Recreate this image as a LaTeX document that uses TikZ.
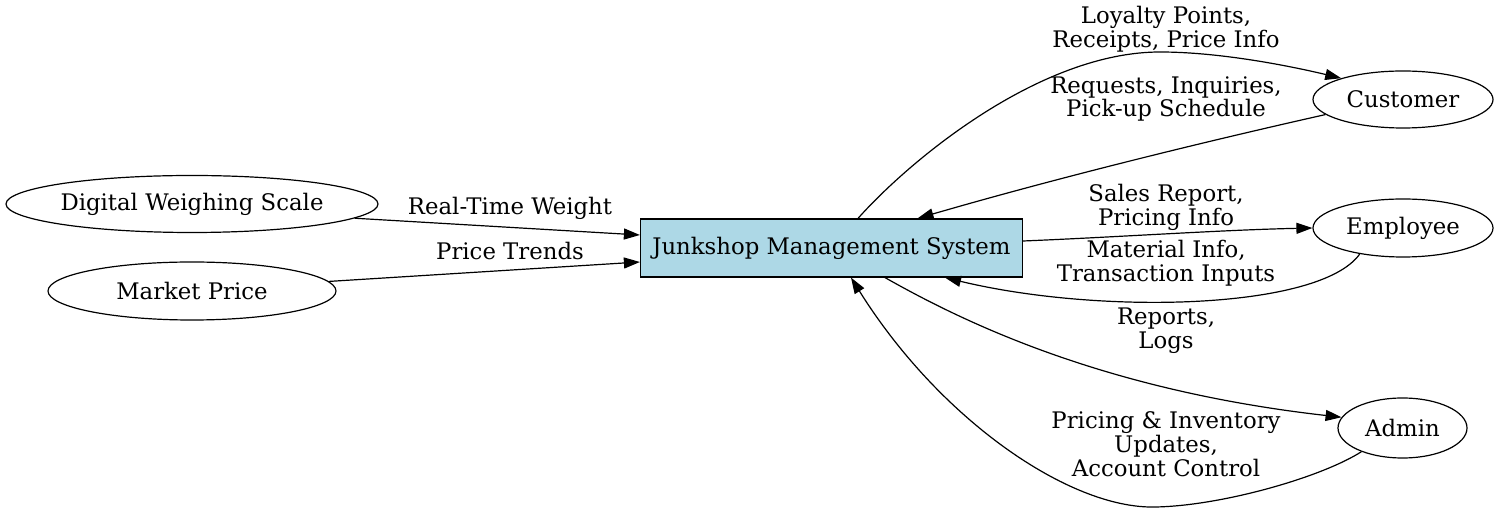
\documentclass[tikz,border=0pt]{standalone}
\usepackage{fontspec}
\setmainfont{DejaVu Serif}
\usetikzlibrary{arrows.meta,shapes.geometric,calc}
\definecolor{boxblue}{RGB}{173,216,230}
\begin{document}
\begin{tikzpicture}[x=0.5pt,y=-0.5pt,
  every node/.style={font=\fontsize{11.4}{11.9}\selectfont, inner sep=0pt},
  ell/.style={draw, ellipse, line width=0.6pt},
  sysbox/.style={draw, rectangle, fill=boxblue, line width=0.6pt, minimum width=191pt, minimum height=29pt},
  lbl/.style={align=center},
  flow/.style={line width=0.6pt, -{Triangle[length=8pt,width=5.5pt]}}]
\useasboundingbox (0,0) rectangle (1499,512);
% nodes
\node[ell, minimum width=186pt, minimum height=28.5pt] (dws) at (192,204) {Digital Weighing Scale};
\node[ell, minimum width=144pt, minimum height=29pt] (mp) at (192,291) {Market Price};
\node[sysbox] (jms) at (831.5,248) {Junkshop Management System};
\node[ell, minimum width=90pt, minimum height=28.5pt] (cust) at (1403,99.5) {Customer};
\node[ell, minimum width=90pt, minimum height=29pt] (emp) at (1403,228) {Employee};
\node[ell, minimum width=64.5pt, minimum height=30pt] (adm) at (1402.5,428) {Admin};
% edges
\draw[flow] (dws.-5) -- ($(jms.west)+(0,-13)$);
\draw[flow] (mp.4) -- ($(jms.west)+(0,14)$);
\draw[flow] ($(jms.north)+(26.5,0)$) .. controls (910,160) and (1040,52) .. (1160,52)
   .. controls (1220,52) and (1290,66) .. (cust.161);
\draw[flow] (cust.191) .. controls (1190,145) and (1050,180) .. ($(jms.north)+(86,0)$);
\draw[flow] ($(jms.east)+(0,-7)$) .. controls (1120,237) and (1220,230) .. (emp.180);
\draw[flow] (emp.211) .. controls (1320,310) and (1100,315) .. ($(jms.south)+(113.5,0)$);
\draw[flow] ($(jms.south)+(53.5,0)$) .. controls (960,320) and (1100,390) .. (adm.170);
\draw[flow] (adm.210) .. controls (1320,478) and (1220,506) .. (1155,507)
   .. controls (1070,509) and (940,420) .. ($(jms.south)+(19.5,0)$);
% labels
\node[lbl] (l1) at (510,208) {Real-Time Weight};
\node[lbl] (l2) at (510,251) {Price Trends};
\node[lbl] (l3) at (1166,29) {Loyalty Points,\\Receipts, Price Info};
\node[lbl] (l4) at (1166,99) {Requests, Inquiries,\\Pick-up Schedule};
\node[lbl] (l5) at (1166,207) {Sales Report,\\Pricing Info};
\node[lbl] (l6) at (1166,263) {Material Info,\\Transaction Inputs};
\node[lbl] (l7) at (1166,331) {Reports,\\Logs};
\node[lbl] (l8) at (1166,444) {Pricing \& Inventory\\Updates,\\Account Control};
\end{tikzpicture}
\end{document}
